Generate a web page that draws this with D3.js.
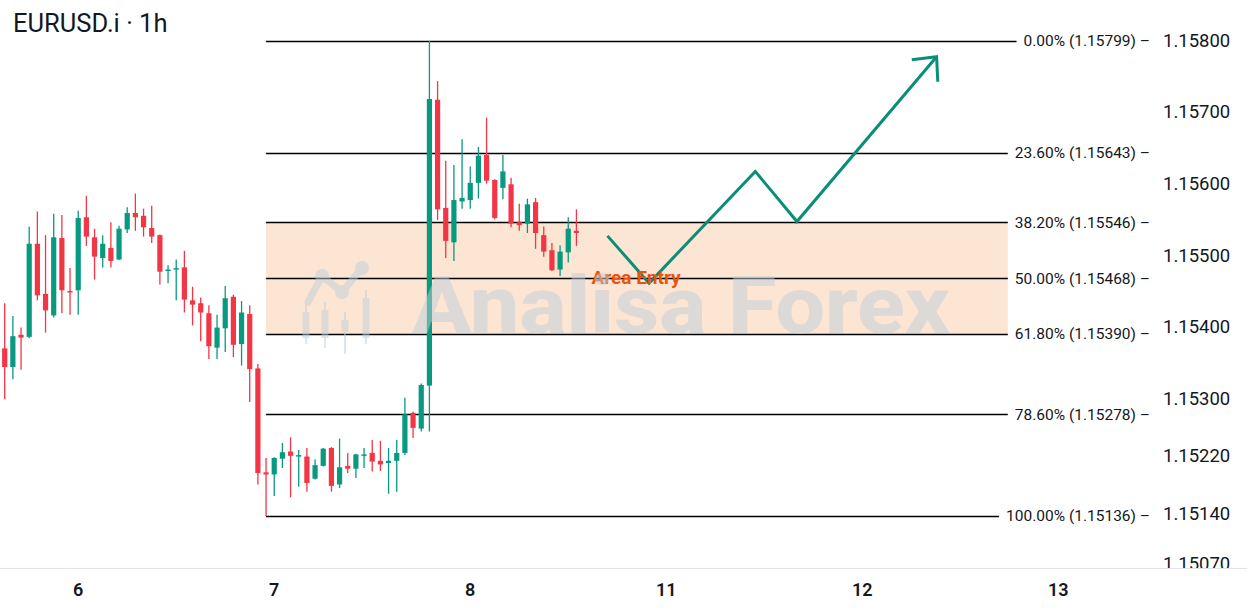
<!DOCTYPE html>
<html lang="en">
<head>
<meta charset="UTF-8">
<title>EURUSD.i 1h</title>
<script src="https://d3js.org/d3.v7.min.js"></script>
<style>
  body { margin: 0; background: #fff; }
  svg { display: block; font-family: Roboto, 'Noto Sans', sans-serif; }
  .price-label { font-size: 18.5px; fill: #131722; }
  .fib-label { font-size: 15.5px; fill: #131722; }
  .day-label { font-size: 18px; font-weight: 600; fill: #131722; text-anchor: middle; }
</style>
</head>
<body>
<script>
const width = 1247, height = 611;

// hourly candles, oldest first
const opens = [1.15370,1.15344,1.15389,1.15386,1.15516,1.15446,1.15416,1.15524,1.15450,1.15451,
  1.15553,1.15525,1.15496,1.15510,1.15494,1.15536,1.15559,1.15555,1.15538,1.15528,
  1.15478,1.15480,1.15483,1.15437,1.15433,1.15419,1.15371,1.15398,1.15442,1.15376,
  1.15418,1.15342,1.15197,1.15194,1.15216,1.15226,1.15220,1.15219,1.15188,1.15206,
  1.15231,1.15180,1.15206,1.15202,1.15220,1.15224,1.15213,1.15210,1.15213,1.15224,
  1.15280,1.15258,1.15318,1.15717,1.15566,1.15518,1.15575,1.15577,1.15601,1.15640,
  1.15605,1.15594,1.15599,1.15546,1.15544,1.15574,1.15528,1.15507,1.15480,1.15504,1.15534];
const highs = [1.15433,1.15415,1.15399,1.15540,1.15561,1.15528,1.15558,1.15556,1.15482,1.15562,
  1.15583,1.15537,1.15528,1.15546,1.15541,1.15567,1.15586,1.15565,1.15569,1.15529,
  1.15486,1.15494,1.15506,1.15456,1.15441,1.15430,1.15417,1.15457,1.15445,1.15436,
  1.15430,1.15348,1.15217,1.15218,1.15238,1.15246,1.15228,1.15231,1.15215,1.15231,
  1.15232,1.15244,1.15224,1.15223,1.15231,1.15242,1.15241,1.15231,1.15242,1.15301,
  1.15282,1.15321,1.15799,1.15743,1.15632,1.15626,1.15662,1.15624,1.15651,1.15692,
  1.15606,1.15640,1.15608,1.15572,1.15579,1.15580,1.15540,1.15517,1.15514,1.15553,1.15564];
const lows = [1.15299,1.15327,1.15340,1.15384,1.15437,1.15392,1.15413,1.15419,1.15417,1.15417,
  1.15513,1.15466,1.15483,1.15483,1.15493,1.15531,1.15534,1.15526,1.15517,1.15459,
  1.15461,1.15437,1.15420,1.15402,1.15380,1.15355,1.15355,1.15365,1.15358,1.15346,
  1.15295,1.15180,1.15136,1.15164,1.15203,1.15162,1.15177,1.15170,1.15187,1.15205,
  1.15170,1.15175,1.15196,1.15189,1.15203,1.15198,1.15199,1.15167,1.15170,1.15221,
  1.15245,1.15254,1.15254,1.15549,1.15496,1.15492,1.15565,1.15565,1.15579,1.15600,
  1.15550,1.15578,1.15539,1.15534,1.15531,1.15509,1.15498,1.15478,1.15471,1.15490,1.15513];
const closes = [1.15344,1.15387,1.15385,1.15516,1.15444,1.15423,1.15525,1.15451,1.15448,1.15552,
  1.15526,1.15498,1.15516,1.15492,1.15537,1.15559,1.15553,1.15539,1.15526,1.15477,
  1.15480,1.15482,1.15438,1.15431,1.15420,1.15373,1.15399,1.15440,1.15375,1.15420,
  1.15341,1.15196,1.15194,1.15217,1.15225,1.15220,1.15221,1.15182,1.15207,1.15230,
  1.15178,1.15204,1.15202,1.15222,1.15222,1.15212,1.15208,1.15213,1.15224,1.15278,
  1.15259,1.15319,1.15718,1.15564,1.15520,1.15577,1.15580,1.15601,1.15639,1.15604,
  1.15552,1.15617,1.15544,1.15542,1.15571,1.15531,1.15505,1.15479,1.15505,1.15537,1.15531];

// time axis (hour index) and price axis
const dayTicks = [9, 33, 57, 81, 105, 129];
const dayLabels = ["6", "7", "8", "11", "12", "13"];
const priceTicks = [1.158, 1.157, 1.156, 1.155, 1.154, 1.153, 1.1522, 1.1514, 1.1507];

// fibonacci retracement
const fibPercents = [0, 23.6, 38.2, 50, 61.8, 78.6, 100];
const fibPrices = [1.15799, 1.15643, 1.15546, 1.15468, 1.15390, 1.15278, 1.15136];
const fibStart = 32;

// projected path
const pathHours = [73.8, 78.9, 91.9, 97.0, 114.1];
const pathPrices = [1.15527, 1.15461, 1.15617, 1.15547, 1.15777];
const entryLabel = {hour: 77.3, price: 1.15468, text: "Area Entry"};

const up = "#089981", down = "#f23645";

const x = d3.scaleLinear().domain([0, 129]).range([4.7, 1058.3]);
const y = d3.scaleLinear().domain([1.15136, 1.15799]).range([516, 41]);
const plotBottom = 568;

const candles = opens.map((o, i) => ({i, o, h: highs[i], l: lows[i], c: closes[i]}));

const svg = d3.select("body").append("svg").attr("width", width).attr("height", height);

svg.append("defs").append("clipPath").attr("id", "plot")
    .append("rect").attr("width", width).attr("height", plotBottom);

const plot = svg.append("g").attr("clip-path", "url(#plot)");

// fib labels first so the lines can stop at them
const fibG = plot.append("g");
const fibLabels = fibG.selectAll("text").data(fibPercents).enter().append("text")
    .attr("class", "fib-label")
    .attr("x", 1150)
    .attr("y", (d, i) => y(fibPrices[i]))
    .attr("dy", "0.35em")
    .attr("text-anchor", "end")
    .text((d, i) => `${d.toFixed(2)}% (${fibPrices[i].toFixed(5)}) \u2013`);

const lineEnds = [];
fibLabels.each(function() {
    lineEnds.push(1150 - this.getComputedTextLength() - 7);
});

// entry zone between 38.2 and 61.8
const zoneRight = Math.min(lineEnds[2], lineEnds[4]);
fibG.insert("rect", "text")
    .attr("x", x(fibStart))
    .attr("y", y(fibPrices[2]))
    .attr("width", zoneRight - x(fibStart))
    .attr("height", y(fibPrices[4]) - y(fibPrices[2]))
    .attr("fill", "#fde5d3");

fibG.selectAll("line").data(fibPrices).enter().append("line")
    .attr("x1", x(fibStart))
    .attr("x2", (d, i) => lineEnds[i])
    .attr("y1", d => Math.round(y(d)) + 0.5).attr("y2", d => Math.round(y(d)) + 0.5)
    .attr("stroke", "#000")
    .attr("stroke-width", 1.4);

// candles
const cg = plot.append("g");
cg.selectAll("line").data(candles).enter().append("line")
    .attr("x1", d => x(d.i)).attr("x2", d => x(d.i))
    .attr("y1", d => y(d.h)).attr("y2", d => y(d.l))
    .attr("stroke", d => d.c >= d.o ? up : down)
    .attr("stroke-width", 1.3);

cg.selectAll("rect").data(candles).enter().append("rect")
    .attr("x", d => x(d.i) - 2.6)
    .attr("width", 5.2)
    .attr("y", d => y(Math.max(d.o, d.c)))
    .attr("height", d => Math.max(1.5, Math.abs(y(d.o) - y(d.c))))
    .attr("fill", d => d.c >= d.o ? up : down);

// projection arrow
const pts = pathHours.map((h, i) => [x(h), y(pathPrices[i])]);
plot.append("path")
    .attr("d", d3.line()(pts))
    .attr("fill", "none")
    .attr("stroke", "#0b8e76")
    .attr("stroke-width", 3)
    .attr("stroke-linejoin", "miter");

const tip = pts[pts.length - 1], prev = pts[pts.length - 2];
const back = Math.atan2(prev[1] - tip[1], prev[0] - tip[0]);
const arm = 25, spread = 43 * Math.PI / 180;
const head = [
    [tip[0] + arm * Math.cos(back + spread), tip[1] + arm * Math.sin(back + spread)],
    tip,
    [tip[0] + arm * Math.cos(back - spread), tip[1] + arm * Math.sin(back - spread)]
];
plot.append("path")
    .attr("d", d3.line()(head))
    .attr("fill", "none")
    .attr("stroke", "#0b8e76")
    .attr("stroke-width", 3);

plot.append("text")
    .attr("x", x(entryLabel.hour))
    .attr("y", y(entryLabel.price))
    .attr("dy", "0.33em")
    .attr("text-anchor", "middle")
    .attr("font-size", 19)
    .attr("font-weight", 700)
    .attr("fill", "#e8530e")
    .text(entryLabel.text);

// watermark
const wm = plot.append("g").attr("opacity", 0.5).attr("fill", "#bccfda").attr("stroke", "#bccfda");
wm.append("text")
    .attr("x", 412).attr("y", 333)
    .attr("font-size", 80)
    .attr("font-weight", 800)
    .attr("stroke", "none")
    .attr("textLength", 538)
    .attr("lengthAdjust", "spacingAndGlyphs")
    .text("Analisa Forex");
const logo = wm.append("g").attr("transform", "translate(300,262)");
logo.append("path")
    .attr("d", "M8,40 L22,14 L42,30 L62,6")
    .attr("fill", "none").attr("stroke-width", 7).attr("stroke-linecap", "round");
[[22, 14], [42, 30], [62, 6]].forEach(p => logo.append("circle")
    .attr("cx", p[0]).attr("cy", p[1]).attr("r", 7).attr("stroke", "none"));
[[6, 50, 76, 42, 82], [25, 48, 76, 40, 86], [45, 58, 70, 50, 92], [66, 36, 76, 28, 82]].forEach(c => {
    logo.append("line").attr("x1", c[0]).attr("x2", c[0]).attr("y1", c[3]).attr("y2", c[4]).attr("stroke-width", 2);
    logo.append("rect").attr("x", c[0] - 3.5).attr("width", 7).attr("y", c[1])
        .attr("height", c[2] - c[1]).attr("stroke", "none");
});

// price axis labels
plot.selectAll("text.price-label").data(priceTicks).enter().append("text")
    .attr("class", "price-label")
    .attr("x", 1163)
    .attr("y", d => y(d))
    .attr("dy", "0.35em")
    .text(d => d.toFixed(5));

// time axis
svg.append("line")
    .attr("x1", 0).attr("x2", width)
    .attr("y1", plotBottom + 0.5).attr("y2", plotBottom + 0.5)
    .attr("stroke", "#e0e3eb");

svg.selectAll("text.day-label").data(dayTicks).enter().append("text")
    .attr("class", "day-label")
    .attr("x", d => x(d))
    .attr("y", 590)
    .attr("dy", "0.35em")
    .text((d, i) => dayLabels[i]);

// title
svg.append("text")
    .attr("x", 13).attr("y", 32)
    .attr("font-size", 25.5)
    .attr("fill", "#131722")
    .text("EURUSD.i \u00b7 1h");
</script>
</body>
</html>
